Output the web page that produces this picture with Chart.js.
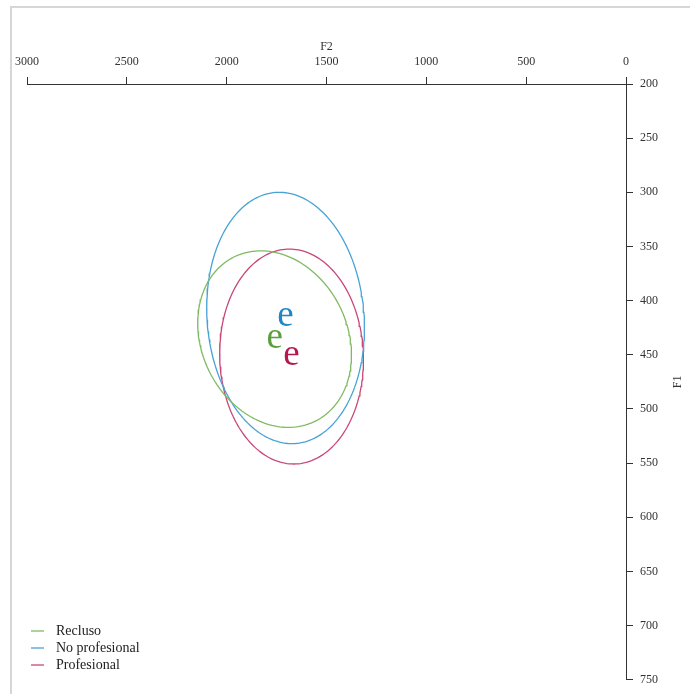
<!DOCTYPE html>
<html>
<head>
<meta charset="utf-8">
<script src="https://cdn.jsdelivr.net/npm/chart.js@4.4.1/dist/chart.umd.min.js"></script>
<style>
  html, body { margin: 0; padding: 0; background: #fff; }
  #wrap { position: relative; width: 690px; height: 694px; overflow: hidden; }
  #frame { position: absolute; left: 10px; top: 6px; width: 720px; height: 720px;
           border-left: 2px solid #d6d6d6; border-top: 2px solid #d6d6d6;
           box-sizing: border-box; pointer-events: none; }
  canvas { position: absolute; left: 0; top: 0; }
</style>
</head>
<body>
<div id="wrap">
  <canvas id="chart" width="690" height="694"></canvas>
  <div id="frame"></div>
</div>
<script>
// Speaker groups and the vowel plotted for each
const groups = ['Recluso', 'No profesional', 'Profesional'];
const vowel = 'e';

// Formant means (Hz) per group
const meanF2 = [1760, 1705, 1675];
const meanF1 = [435.5, 416, 451.6];

// Spread of each group: standard deviations and F2/F1 correlation
const sdF2 = [385, 395, 360];
const sdF1 = [81.5, 116, 99.2];
const corrF2F1 = [-0.18, -0.08, -0.03];

// Axis ticks
const f2Ticks = [0, 500, 1000, 1500, 2000, 2500, 3000];
const f1Ticks = [200, 250, 300, 350, 400, 450, 500, 550, 600, 650, 700, 750];

// Colours
const lineColors = ['#80ba62', '#48a2d6', '#c8477a'];
const labelColors = ['#5b9f3d', '#1d87c7', '#b8164f'];

const SERIF = "'Liberation Serif', 'DejaVu Serif', serif";
Chart.defaults.font.family = SERIF;
Chart.defaults.color = '#333';

// Outline of one standard-deviation ellipse from the group's moments
function ellipseOutline(i) {
  const r = corrF2F1[i];
  const k = Math.sqrt(1 - r * r);
  const pts = [];
  const steps = 200;
  for (let j = 0; j <= steps; j++) {
    const t = 2 * Math.PI * j / steps;
    pts.push({
      x: meanF2[i] + sdF2[i] * Math.cos(t),
      y: meanF1[i] + sdF1[i] * (r * Math.cos(t) + k * Math.sin(t))
    });
  }
  return pts;
}

// Vowel symbol at each group mean
const vowelLabels = {
  id: 'vowelLabels',
  afterDatasetsDraw(chart) {
    const { ctx, scales: { x, y } } = chart;
    const size = 37;
    ctx.save();
    ctx.font = size + 'px ' + SERIF;
    ctx.textAlign = 'center';
    ctx.textBaseline = 'alphabetic';
    groups.forEach((g, i) => {
      ctx.fillStyle = labelColors[i];
      const px = x.getPixelForValue(meanF2[i]);
      const py = y.getPixelForValue(meanF1[i]);
      ctx.fillText(vowel, px, py + size * 0.23);
    });
    ctx.restore();
  }
};

// Rotated F1 title and the line legend in the lower-left corner
const extras = {
  id: 'extras',
  afterDraw(chart) {
    const { ctx, chartArea } = chart;
    ctx.save();
    ctx.fillStyle = '#333';
    ctx.font = '12px ' + SERIF;
    ctx.textAlign = 'center';
    ctx.textBaseline = 'middle';
    ctx.translate(678, (chartArea.top + chartArea.bottom) / 2);
    ctx.rotate(-Math.PI / 2);
    ctx.fillText('F1', 0, 0);
    ctx.restore();

    ctx.save();
    ctx.font = '14px ' + SERIF;
    ctx.textAlign = 'left';
    ctx.textBaseline = 'middle';
    groups.forEach((g, i) => {
      const yy = 631 + i * 17;
      ctx.strokeStyle = lineColors[i];
      ctx.lineWidth = 1.3;
      ctx.beginPath();
      ctx.moveTo(31, yy);
      ctx.lineTo(44, yy);
      ctx.stroke();
      ctx.fillStyle = '#222';
      ctx.fillText(g, 56, yy);
    });
    ctx.restore();
  }
};

const datasets = groups.map((g, i) => ({
  label: g,
  data: ellipseOutline(i),
  showLine: true,
  pointRadius: 0,
  borderColor: lineColors[i],
  borderWidth: 1.3,
  fill: false,
  tension: 0
}));

const plainNumber = v => String(v);

new Chart(document.getElementById('chart'), {
  type: 'scatter',
  data: { datasets },
  options: {
    responsive: false,
    animation: false,
    devicePixelRatio: 1,
    layout: { padding: { left: 27, right: 0, top: 0, bottom: 11 } },
    plugins: { legend: { display: false }, tooltip: { enabled: false } },
    scales: {
      x: {
        type: 'linear',
        position: 'top',
        reverse: true,
        min: 0,
        max: 3000,
        afterBuildTicks: s => { s.ticks = f2Ticks.map(v => ({ value: v })); },
        afterFit: s => { s.height = 84; },
        grid: { drawOnChartArea: false, drawTicks: true, tickLength: 7, color: '#333', lineWidth: 1 },
        border: { display: true, color: '#333', width: 1 },
        ticks: { autoSkip: false, maxRotation: 0, padding: 8, font: { size: 12 }, color: '#333', callback: plainNumber },
        title: { display: true, text: 'F2', font: { size: 12 }, color: '#333', padding: { top: 40, bottom: 0 } }
      },
      y: {
        type: 'linear',
        position: 'right',
        reverse: true,
        min: 200,
        max: 750,
        afterBuildTicks: s => { s.ticks = f1Ticks.map(v => ({ value: v })); },
        afterFit: s => { s.width = 64; },
        grid: { drawOnChartArea: false, drawTicks: true, tickLength: 7, color: '#333', lineWidth: 1 },
        border: { display: true, color: '#333', width: 1 },
        ticks: { autoSkip: false, padding: 7, font: { size: 12 }, color: '#333', callback: plainNumber }
      }
    }
  },
  plugins: [vowelLabels, extras]
});
</script>
</body>
</html>
